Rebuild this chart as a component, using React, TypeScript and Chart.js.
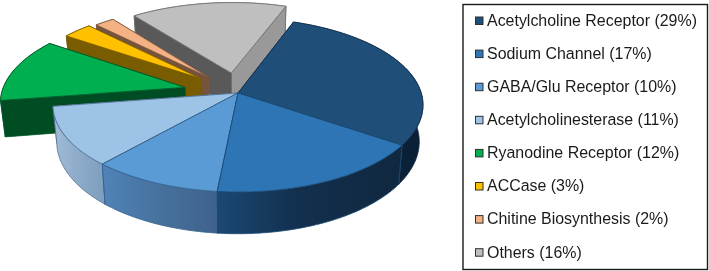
import React, { useEffect, useRef } from "react";
import { Chart, registerables } from "chart.js";

Chart.register(...registerables);

const categories = [
  "Acetylcholine Receptor",
  "Sodium Channel",
  "GABA/Glu Receptor",
  "Acetylcholinesterase",
  "Ryanodine Receptor",
  "ACCase",
  "Chitine Biosynthesis",
  "Others",
];
const shares = [29, 17, 10, 11, 12, 3, 2, 16];
const explode = [0, 0, 0, 0, 0.3, 0.27, 0.25, 0.245];
const firstSliceAngle = 20;

const topColors = ["#1F4E79", "#2E75B6", "#5B9BD5", "#9DC3E6", "#00B050", "#FFC000", "#F4B183", "#BFBFBF"];
const edgeColors = ["#12304c", "#1c4a75", "#33618c", "#4f6f8f", "#00582a", "#7a5c00", "#7a5840", "#6f6f6f"];
const startWall = ["#0c2338", "#0c2338", "#3f6590", "#7f9fc0", "#004D23", "#7A5C00", "#75533c", "#595959"];
const endWall = ["#0c2338", "#1a4470", "#3f6590", "#7f9fc0", "#004D23", "#7A5C00", "#75533c", "#999999"];
const rimLeft = ["#0f2b45", "#1b4873", "#5083b8", "#a3bcd6", "#004D23", "#7A5C00", "#75533c", "#8c8c8c"];
const rimMid = ["#0d2640", "#122f4d", "#47739f", "#8fadcb", "#004D23", "#7A5C00", "#75533c", "#8c8c8c"];
const rimRight = ["#0a1f35", "#10283f", "#3f628b", "#7f9fc0", "#004D23", "#7A5C00", "#75533c", "#8c8c8c"];
const paintOrder = [7, 6, 5, 4, 0, 3, 2, 1];

const CX = 238;
const CY = 93;
const AX = 183.2;
const BY = 85.3;
const PERSP = 0.138;
const DEPTH = 36;
const FLOOR_SCALE = 0.98;

type Pt = { x: number; y: number };

const top = (X: number, Y: number): Pt => {
  const w = 1 + PERSP * Y;
  return { x: CX + (AX * X) / w, y: CY - (BY * Y) / w };
};
const floor = (X: number, Y: number): Pt => {
  const w = 1 + PERSP * Y;
  const p = top(X, Y);
  return { x: CX + (p.x - CX) * FLOOR_SCALE, y: p.y + DEPTH / w };
};

const poly = (ctx: CanvasRenderingContext2D, pts: Pt[], fill: string | CanvasGradient, stroke: string, lw = 0.8) => {
  ctx.beginPath();
  pts.forEach((p, i) => (i ? ctx.lineTo(p.x, p.y) : ctx.moveTo(p.x, p.y)));
  ctx.closePath();
  ctx.fillStyle = fill;
  ctx.fill();
  ctx.strokeStyle = stroke;
  ctx.lineWidth = lw;
  ctx.stroke();
};

const pie3d = {
  id: "pie3d",
  beforeDatasetsDraw(chart: any) {
    const ctx: CanvasRenderingContext2D = chart.ctx;
    const arcs = chart.getDatasetMeta(0).data;
    ctx.save();
    ctx.lineJoin = "round";
    paintOrder.forEach((i) => {
      const arc = arcs[i];
      const a0 = arc.startAngle + Math.PI / 2;
      const a1 = arc.endAngle + Math.PI / 2;
      const mid = (a0 + a1) / 2;
      const off = arc.options.offset;
      const ox = Math.sin(mid) * off;
      const oy = Math.cos(mid) * off;
      const rim: [number, number][] = [];
      const n = Math.max(2, Math.ceil((a1 - a0) / 0.015));
      for (let k = 0; k <= n; k++) {
        const t = a0 + ((a1 - a0) * k) / n;
        rim.push([ox + Math.sin(t), oy + Math.cos(t)]);
      }
      const first = rim[0];
      const last = rim[rim.length - 1];
      const walls: { depth: number; draw: () => void }[] = [
        {
          depth: oy + Math.cos(a0) / 2,
          draw: () =>
            poly(ctx, [top(ox, oy), top(first[0], first[1]), floor(first[0], first[1]), floor(ox, oy)], startWall[i], edgeColors[i]),
        },
        {
          depth: oy + Math.cos(a1) / 2,
          draw: () =>
            poly(ctx, [top(ox, oy), top(last[0], last[1]), floor(last[0], last[1]), floor(ox, oy)], endWall[i], edgeColors[i]),
        },
        {
          depth: oy + Math.cos(mid),
          draw: () => {
            const xs = rim.map((r) => top(r[0], r[1]).x);
            const g = ctx.createLinearGradient(Math.min(...xs), 0, Math.max(...xs), 0);
            g.addColorStop(0, rimLeft[i]);
            g.addColorStop(0.45, rimMid[i]);
            g.addColorStop(1, rimRight[i]);
            poly(
              ctx,
              [...rim.map((r) => top(r[0], r[1])), ...rim.slice().reverse().map((r) => floor(r[0], r[1]))],
              g,
              edgeColors[i]
            );
          },
        },
      ];
      walls.sort((p, q) => q.depth - p.depth).forEach((w) => w.draw());
      poly(ctx, [top(ox, oy), ...rim.map((r) => top(r[0], r[1]))], topColors[i], edgeColors[i]);
    });
    ctx.restore();
    return false;
  },
};

const legendBox = {
  id: "legendBox",
  afterDraw(chart: any) {
    const ctx: CanvasRenderingContext2D = chart.ctx;
    const labels: string[] = chart.data.labels;
    const values: number[] = chart.data.datasets[0].data;
    ctx.save();
    ctx.strokeStyle = "#1a1a1a";
    ctx.lineWidth = 1.4;
    ctx.strokeRect(463, 4.5, 244.5, 265);
    ctx.font = '15.95px "Liberation Sans", Arial, sans-serif';
    ctx.textBaseline = "middle";
    ctx.textAlign = "left";
    labels.forEach((label, i) => {
      const y = 21 + i * 33.1;
      ctx.fillStyle = topColors[i];
      ctx.fillRect(475.5, y - 4, 7.5, 7.5);
      ctx.strokeStyle = "#303030";
      ctx.lineWidth = 1;
      ctx.strokeRect(475.5, y - 4, 7.5, 7.5);
      ctx.fillStyle = "#1a1a1a";
      ctx.fillText(`${label} (${values[i]}%)`, 487, y + 0.5);
    });
    ctx.restore();
  },
};

export default function App() {
  const ref = useRef<HTMLCanvasElement | null>(null);
  useEffect(() => {
    document.body.style.margin = "0";
    const chart = new Chart(ref.current as HTMLCanvasElement, {
      type: "pie",
      data: {
        labels: categories,
        datasets: [{ data: shares, backgroundColor: topColors, offset: explode, borderWidth: 0 }],
      },
      options: {
        responsive: false,
        animation: false,
        rotation: firstSliceAngle,
        plugins: { legend: { display: false }, tooltip: { enabled: false } },
      } as any,
      plugins: [pie3d, legendBox],
    } as any);
    return () => chart.destroy();
  }, []);
  return <canvas ref={ref} width={709} height={271} style={{ display: "block" }} />;
}
